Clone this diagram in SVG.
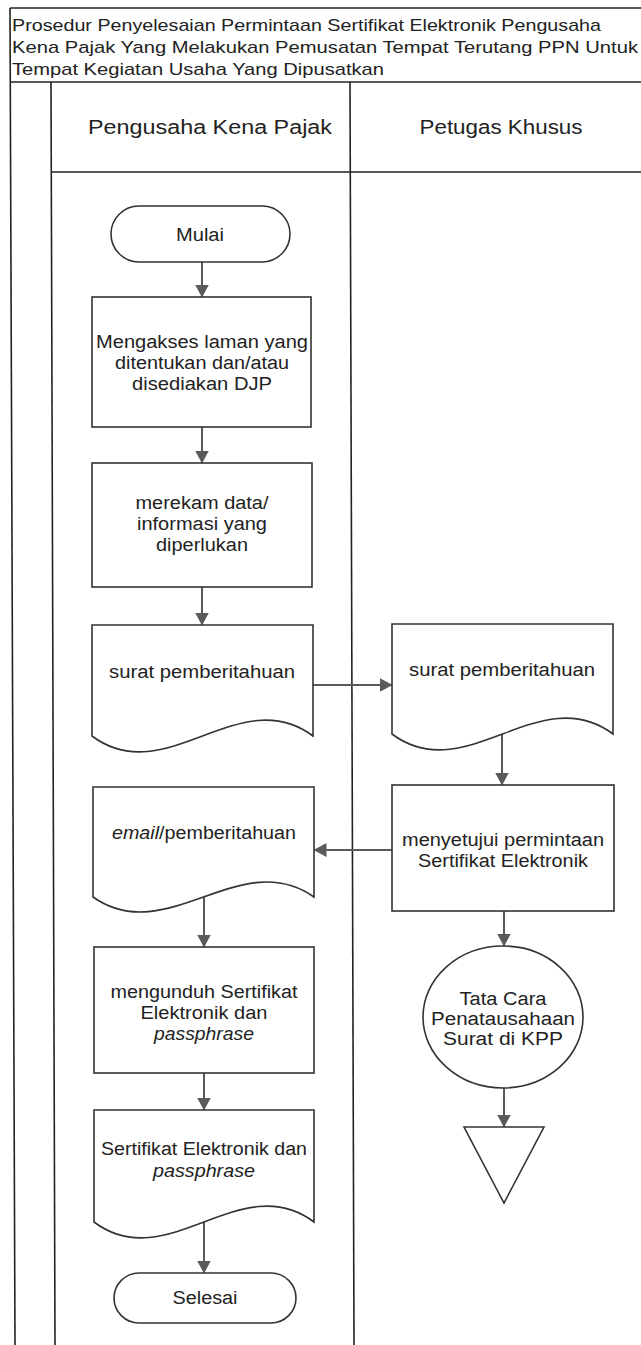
<svg xmlns="http://www.w3.org/2000/svg" width="641" height="1345" viewBox="0 0 641 1345">
<defs>
<style>
.frame{fill:none;stroke:#222;stroke-width:1.6}
.shape{fill:#fff;stroke:#333;stroke-width:1.6}
.conn{fill:none;stroke:#5a5a5a;stroke-width:2}
text{font-family:"Liberation Sans",Arial,sans-serif;fill:#222;font-size:18px;text-anchor:middle}
.title{font-size:17px;text-anchor:start}
.hdr{font-size:20px}
.it{font-style:italic}
</style>
<marker id="arr" viewBox="0 0 13 14" refX="12.5" refY="7" markerWidth="13" markerHeight="14" markerUnits="userSpaceOnUse" orient="auto">
<path d="M0,0 L13,7 L0,14 Z" fill="#5a5a5a"/>
</marker>
</defs>
<rect width="641" height="1345" fill="#fff"/>

<g id="frame">
<line class="frame" x1="10" y1="8" x2="641" y2="8"/>
<line class="frame" x1="10" y1="82" x2="641" y2="82"/>
<line class="frame" x1="52" y1="172" x2="641" y2="172"/>
<line class="frame" x1="10" y1="8" x2="15" y2="1345"/>
<line class="frame" x1="51" y1="82" x2="55" y2="1345"/>
<line class="frame" x1="350" y1="82" x2="354" y2="1345"/>
<text class="title" x="12" y="31" textLength="589" lengthAdjust="spacingAndGlyphs">Prosedur Penyelesaian Permintaan Sertifikat Elektronik Pengusaha</text>
<text class="title" x="12" y="53" textLength="626" lengthAdjust="spacingAndGlyphs">Kena Pajak Yang Melakukan Pemusatan Tempat Terutang PPN Untuk</text>
<text class="title" x="12" y="75" textLength="372" lengthAdjust="spacingAndGlyphs">Tempat Kegiatan Usaha Yang Dipusatkan</text>
<text class="hdr" x="210" y="134" textLength="244" lengthAdjust="spacingAndGlyphs">Pengusaha Kena Pajak</text>
<text class="hdr" x="501" y="134" textLength="163" lengthAdjust="spacingAndGlyphs">Petugas Khusus</text>
</g>

<g id="connectors">
<line class="conn" x1="202" y1="262" x2="202" y2="297" marker-end="url(#arr)"/>
<line class="conn" x1="202" y1="427" x2="202" y2="463" marker-end="url(#arr)"/>
<line class="conn" x1="202" y1="587" x2="202" y2="625" marker-end="url(#arr)"/>
<line class="conn" x1="313" y1="685" x2="392" y2="685" marker-end="url(#arr)"/>
<line class="conn" x1="502" y1="734" x2="502" y2="785" marker-end="url(#arr)"/>
<line class="conn" x1="392" y1="850" x2="314" y2="850" marker-end="url(#arr)"/>
<line class="conn" x1="204" y1="897" x2="204" y2="947" marker-end="url(#arr)"/>
<line class="conn" x1="204" y1="1073" x2="204" y2="1110" marker-end="url(#arr)"/>
<line class="conn" x1="204" y1="1222" x2="204" y2="1273" marker-end="url(#arr)"/>
<line class="conn" x1="504" y1="911" x2="504" y2="946" marker-end="url(#arr)"/>
<line class="conn" x1="504" y1="1088" x2="504" y2="1127" marker-end="url(#arr)"/>
</g>

<g id="mulai">
<rect class="shape" x="111" y="206" width="179" height="56" rx="28"/>
<text x="200" y="241" textLength="48" lengthAdjust="spacingAndGlyphs">Mulai</text>
</g>

<g id="mengakses">
<rect class="shape" x="92" y="297" width="219" height="130"/>
<text x="202" y="348" textLength="212" lengthAdjust="spacingAndGlyphs">Mengakses laman yang</text>
<text x="202" y="369" textLength="174" lengthAdjust="spacingAndGlyphs">ditentukan dan/atau</text>
<text x="202" y="390" textLength="140" lengthAdjust="spacingAndGlyphs">disediakan DJP</text>
</g>

<g id="merekam">
<rect class="shape" x="92" y="463" width="220" height="124"/>
<text x="202" y="509" textLength="133" lengthAdjust="spacingAndGlyphs">merekam data/</text>
<text x="202" y="530" textLength="130" lengthAdjust="spacingAndGlyphs">informasi yang</text>
<text x="202" y="551" textLength="92" lengthAdjust="spacingAndGlyphs">diperlukan</text>
</g>

<g id="doc-surat-pkp">
<path class="shape" d="M92,625 H313 V736 C239.3,681 165.7,791 92,736 Z"/>
<text x="202" y="678" textLength="186" lengthAdjust="spacingAndGlyphs">surat pemberitahuan</text>
</g>

<g id="doc-surat-petugas">
<path class="shape" d="M392,624 H613 V734 C539.3,679 465.7,789 392,734 Z"/>
<text x="502" y="676" textLength="186" lengthAdjust="spacingAndGlyphs">surat pemberitahuan</text>
</g>

<g id="menyetujui">
<rect class="shape" x="392" y="785" width="222" height="126"/>
<text x="503" y="846" textLength="202" lengthAdjust="spacingAndGlyphs">menyetujui permintaan</text>
<text x="503" y="867" textLength="170" lengthAdjust="spacingAndGlyphs">Sertifikat Elektronik</text>
</g>

<g id="doc-email">
<path class="shape" d="M93,787 H314 V897 C240.3,845 166.7,949 93,897 Z"/>
<text x="204" y="839" textLength="184" lengthAdjust="spacingAndGlyphs"><tspan class="it">email</tspan>/pemberitahuan</text>
</g>

<g id="mengunduh">
<rect class="shape" x="94" y="947" width="220" height="126"/>
<text x="204" y="998" textLength="187" lengthAdjust="spacingAndGlyphs">mengunduh Sertifikat</text>
<text x="204" y="1019" textLength="127" lengthAdjust="spacingAndGlyphs">Elektronik dan</text>
<text class="it" x="204" y="1040" textLength="100" lengthAdjust="spacingAndGlyphs">passphrase</text>
</g>

<g id="doc-sertifikat">
<path class="shape" d="M94,1110 H314 V1222 C240.7,1167 167.3,1277 94,1222 Z"/>
<text x="204" y="1155" textLength="206" lengthAdjust="spacingAndGlyphs">Sertifikat Elektronik dan</text>
<text class="it" x="204" y="1177" textLength="102" lengthAdjust="spacingAndGlyphs">passphrase</text>
</g>

<g id="selesai">
<rect class="shape" x="114" y="1273" width="182" height="50" rx="25"/>
<text x="205" y="1304" textLength="65" lengthAdjust="spacingAndGlyphs">Selesai</text>
</g>

<g id="tata-cara">
<ellipse class="shape" cx="503" cy="1017" rx="80" ry="71"/>
<text x="503" y="1005" textLength="87" lengthAdjust="spacingAndGlyphs">Tata Cara</text>
<text x="503" y="1025" textLength="144" lengthAdjust="spacingAndGlyphs">Penatausahaan</text>
<text x="503" y="1045" textLength="120" lengthAdjust="spacingAndGlyphs">Surat di KPP</text>
</g>

<g id="arsip">
<path class="shape" d="M464,1127 H544 L504,1203 Z"/>
</g>
</svg>
